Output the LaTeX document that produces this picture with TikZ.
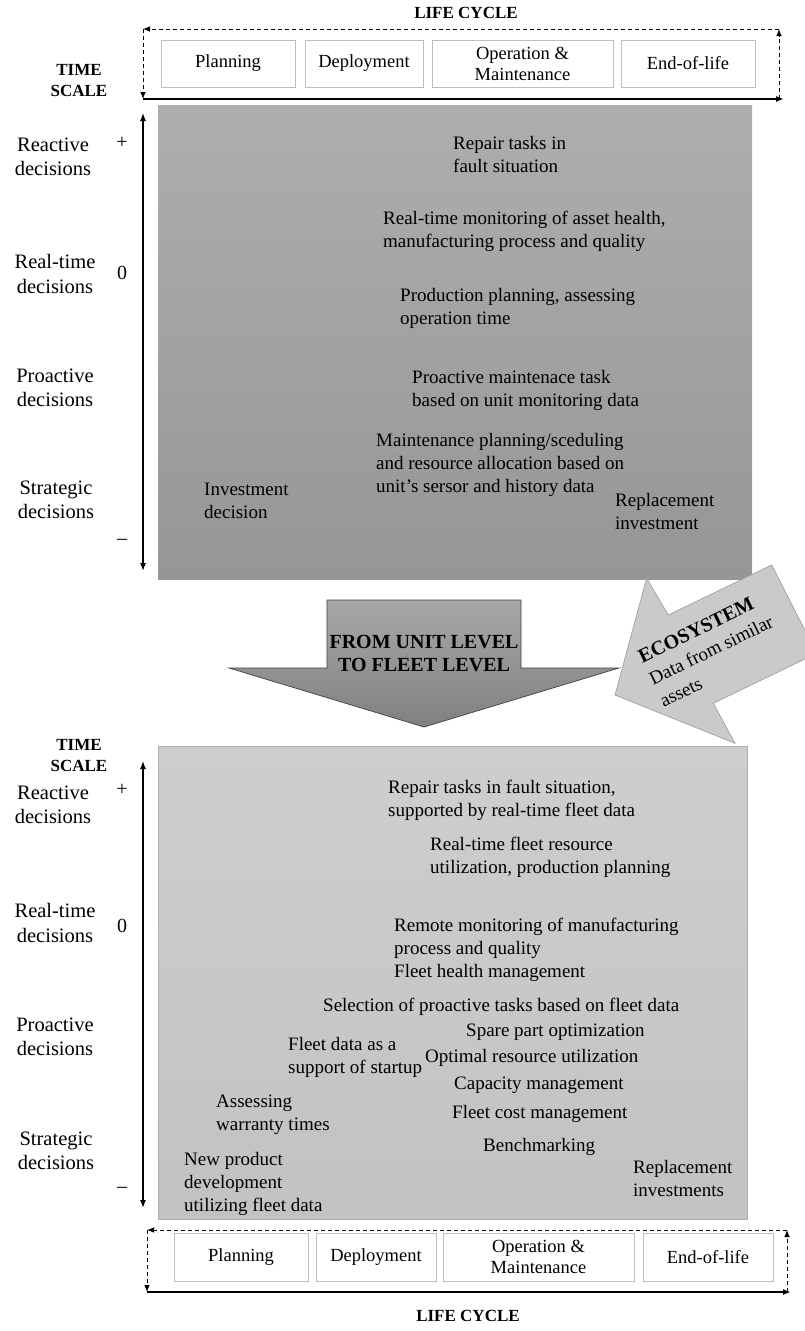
\documentclass[tikz,border=0pt]{standalone}
\usepackage{fontspec}
\setmainfont{Liberation Serif}
\usetikzlibrary{arrows.meta}
\definecolor{upTop}{RGB}{174,174,174}
\definecolor{upBot}{RGB}{150,150,150}
\definecolor{loTop}{RGB}{206,206,206}
\definecolor{loBot}{RGB}{194,194,194}
\definecolor{loEdge}{RGB}{175,175,175}
\definecolor{arTop}{RGB}{168,168,168}
\definecolor{arBot}{RGB}{128,128,128}
\definecolor{ecoFill}{RGB}{202,202,202}
\definecolor{ecoEdge}{RGB}{160,160,160}
\definecolor{lcEdge}{RGB}{190,190,190}
\tikzset{
  body/.style={font=\fontsize{19}{23}\selectfont, align=left, inner sep=0pt, anchor=west},
  sidelbl/.style={font=\fontsize{20.5}{24.5}\selectfont, align=center, inner sep=0pt},
  signlbl/.style={font=\fontsize{20}{24}\selectfont, inner sep=0pt},
  headlbl/.style={font=\bfseries\fontsize{17}{21}\selectfont, align=center, inner sep=0pt},
  lcbox/.style={draw=lcEdge, line width=0.8pt, fill=white, font=\fontsize{18.5}{21}\selectfont, align=center, inner sep=0pt},
  solidarrow/.style={line width=1.6pt, -{Latex[length=8pt,width=6pt]}},
  dasharrow/.style={line width=0.8pt, dash pattern=on 4pt off 3pt, -{Latex[length=7pt,width=5.5pt]}},
  scalearrow/.style={line width=1.3pt, {Latex[length=8pt,width=6pt]}-{Latex[length=8pt,width=6pt]}},
}
\begin{document}
\begin{tikzpicture}[x=1pt,y=-1pt]
\path[use as bounding box] (0,0) rectangle (805,1331);

% ---------------- top life cycle ----------------
\node[headlbl] (lctitle1) at (466,13) {LIFE CYCLE};
\coordinate (t1tl) at (143,29);
\coordinate (t1tr) at (779,29);
\coordinate (t1bl) at (143,99);
\coordinate (t1br) at (779,99);
\coordinate (t1be) at (784,99);
\draw[dasharrow] (t1br) -- (t1tr);
\draw[dasharrow] (t1tr) -- (t1tl);
\draw[dasharrow] (t1tl) -- (t1bl);
\draw[solidarrow] (t1bl) -- (t1be);
\node[lcbox, minimum width=134pt, minimum height=47pt] (p1) at (228,63.5) {Planning};
\node[lcbox, minimum width=118pt, minimum height=47pt] (d1) at (364,63.5) {Deployment};
\node[lcbox, minimum width=181pt, minimum height=47pt] (o1) at (522.5,63.5) {Operation \&\\Maintenance};
\node[lcbox, minimum width=134pt, minimum height=47pt] (e1) at (688,63.5) {End-of-life};

\node[headlbl] (ts1) at (79,81) {TIME\\SCALE};

% ---------------- upper (unit level) panel ----------------
\shade[top color=upTop, bottom color=upBot] (158,105) rectangle (752,579);
\coordinate (a1top) at (143,113);
\coordinate (a1bot) at (143,571);
\draw[scalearrow] (a1top) -- (a1bot);

\node[sidelbl] (r1) at (53,157) {Reactive\\decisions};
\node[sidelbl] (rt1) at (55,274) {Real-time\\decisions};
\node[sidelbl] (pr1) at (55,388) {Proactive\\decisions};
\node[sidelbl] (st1) at (56,500) {Strategic\\decisions};
\node[signlbl] (plus1) at (122,143) {+};
\node[signlbl] (zero1) at (122,273) {0};
\node[signlbl] (minus1) at (122,542) {--};

\node[body] (u1) at (453,154) {Repair tasks in\\fault situation};
\node[body] (u2) at (383,231.5) {Real-time monitoring of asset health,\\manufacturing process and quality};
\node[body] (u3) at (400,308.5) {Production planning, assessing\\operation time};
\node[body] (u4) at (412,390) {Proactive maintenace task\\based on unit monitoring data};
\node[body] (u5) at (376,465) {Maintenance planning/sceduling\\and resource allocation based on\\unit's sersor and history data};
\node[body] (u6) at (204,501) {Investment\\decision};
\node[body] (u7) at (615,511) {Replacement\\investment};

% ---------------- big down arrow ----------------
\shade[top color=arTop, bottom color=arBot, draw=black!75, line width=0.7pt]
  (327,600) -- (521,600) -- (521,668) -- (619,668) -- (424,727) -- (229,668) -- (327,668) -- cycle;
\node[font=\bfseries\fontsize{20}{23}\selectfont, align=center, inner sep=0pt] (fromto) at (424,654) {FROM UNIT LEVEL\\TO FLEET LEVEL};

% ---------------- ecosystem arrow ----------------
\draw[fill=ecoFill, draw=ecoEdge, line width=0.7pt]
  (615,695) -- (646.7,578.3) -- (668.3,615) -- (771.7,565) -- (816.7,653.3) -- (713.3,703.3) -- (735,743.3) -- cycle;
\node[rotate=26, align=left, inner sep=0pt, font=\fontsize{19}{24.5}\selectfont] (eco) at (711,650)
  {{\bfseries\fontsize{20}{24.5}\selectfont ECOSYSTEM}\\Data from similar\\assets};

% ---------------- lower (fleet level) panel ----------------
\node[headlbl] (ts2) at (79,756) {TIME\\SCALE};
\shade[top color=loTop, bottom color=loBot, draw=loEdge, line width=0.8pt] (158,746) rectangle (747,1219);
\coordinate (a2top) at (143,761);
\coordinate (a2bot) at (143,1208);
\draw[scalearrow] (a2top) -- (a2bot);

\node[sidelbl] (r2) at (53,805) {Reactive\\decisions};
\node[sidelbl] (rt2) at (55,923) {Real-time\\decisions};
\node[sidelbl] (pr2) at (55,1037) {Proactive\\decisions};
\node[sidelbl] (st2) at (56,1151) {Strategic\\decisions};
\node[signlbl] (plus2) at (122,790) {+};
\node[signlbl] (zero2) at (122,926) {0};
\node[signlbl] (minus2) at (122,1190) {--};

\node[body] (f1) at (388,800) {Repair tasks in fault situation,\\supported by real-time fleet data};
\node[body] (f2) at (430,857) {Real-time fleet resource\\utilization, production planning};
\node[body] (f3) at (394,950) {Remote monitoring of manufacturing\\process and quality\\Fleet health management};
\node[body] (f4) at (323,1007) {Selection of proactive tasks based on fleet data};
\node[body] (f5) at (466,1032) {Spare part optimization};
\node[body] (f6) at (288,1057) {Fleet data as a\\support of startup};
\node[body] (f7) at (425,1058) {Optimal resource utilization};
\node[body] (f8) at (454,1085) {Capacity management};
\node[body] (f9) at (452,1114) {Fleet cost management};
\node[body] (f10) at (216,1115) {Assessing\\warranty times};
\node[body] (f11) at (483,1147) {Benchmarking};
\node[body] (f12) at (184,1184) {New product\\development\\utilizing fleet data};
\node[body] (f13) at (633,1178) {Replacement\\investments};

% ---------------- bottom life cycle ----------------
\coordinate (t2tl) at (147,1230);
\coordinate (t2tr) at (787,1230);
\coordinate (t2bl) at (147,1292);
\coordinate (t2br) at (787,1292);
\coordinate (t2be) at (791,1292);
\draw[dasharrow] (t2br) -- (t2tr);
\draw[dasharrow] (t2tr) -- (t2tl);
\draw[dasharrow] (t2tl) -- (t2bl);
\draw[solidarrow] (t2bl) -- (t2be);
\node[lcbox, minimum width=134pt, minimum height=48pt] (p2) at (241,1257) {Planning};
\node[lcbox, minimum width=120pt, minimum height=48pt] (d2) at (376,1257) {Deployment};
\node[lcbox, minimum width=191pt, minimum height=48pt] (o2) at (538.5,1257) {Operation \&\\Maintenance};
\node[lcbox, minimum width=130pt, minimum height=48pt] (e2) at (708,1257) {End-of-life};
\node[headlbl] (lctitle2) at (468,1316) {LIFE CYCLE};
\end{tikzpicture}
\end{document}
